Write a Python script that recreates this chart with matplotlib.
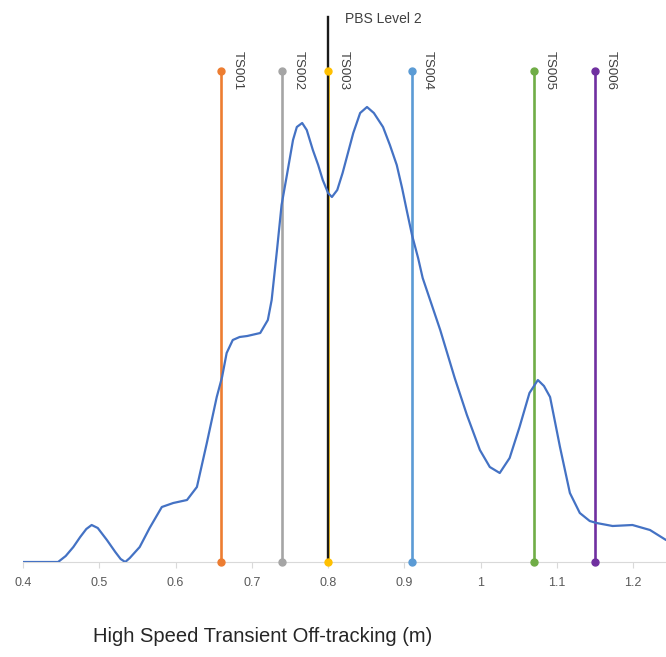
import numpy as np
import matplotlib.pyplot as plt

# density curve
curveX = [0.400, 0.446, 0.456, 0.466, 0.475, 0.483, 0.490, 0.498, 0.510, 0.521,
          0.528, 0.534, 0.540, 0.553, 0.566, 0.582, 0.597, 0.615, 0.628, 0.641,
          0.654, 0.661, 0.667, 0.675, 0.684, 0.694, 0.711, 0.721, 0.726, 0.733,
          0.739, 0.746, 0.754, 0.759, 0.766, 0.772, 0.780, 0.787, 0.793, 0.800,
          0.805, 0.812, 0.819, 0.826, 0.833, 0.842, 0.851, 0.860, 0.872, 0.881,
          0.890, 0.897, 0.903, 0.910, 0.918, 0.924, 0.947, 0.966, 0.982, 0.999,
          1.012, 1.025, 1.038, 1.051, 1.064, 1.075, 1.083, 1.091, 1.097, 1.104,
          1.117, 1.130, 1.143, 1.152, 1.173, 1.199, 1.222, 1.243]
curveY = [0.00, 0.00, 0.06, 0.15, 0.25, 0.33, 0.37, 0.34, 0.22, 0.10,
          0.03, 0.00, 0.04, 0.15, 0.34, 0.55, 0.59, 0.62, 0.75, 1.19,
          1.65, 1.85, 2.09, 2.22, 2.25, 2.26, 2.29, 2.42, 2.62, 3.12,
          3.57, 3.87, 4.22, 4.35, 4.39, 4.32, 4.12, 3.97, 3.82, 3.69,
          3.65, 3.72, 3.89, 4.09, 4.29, 4.49, 4.55, 4.49, 4.35, 4.17,
          3.97, 3.74, 3.52, 3.27, 3.04, 2.84, 2.32, 1.84, 1.47, 1.12,
          0.95, 0.89, 1.04, 1.35, 1.69, 1.82, 1.76, 1.65, 1.42, 1.15,
          0.69, 0.49, 0.41, 0.39, 0.36, 0.37, 0.32, 0.22]

# test vehicles
tsNames = ['TS001', 'TS002', 'TS003', 'TS004', 'TS005', 'TS006']
tsValues = [0.66, 0.74, 0.80, 0.91, 1.07, 1.15]
tsColors = ['#ED7D31', '#A5A5A5', '#FFC000', '#5B9BD5', '#70AD47', '#7030A0']
tsTop = 4.91

pbsName = 'PBS Level 2'
pbsValue = 0.80
pbsTop = 5.45

xTicks = [0.4, 0.5, 0.6, 0.7, 0.8, 0.9, 1.0, 1.1, 1.2]
xTickLabels = ['0.4', '0.5', '0.6', '0.7', '0.8', '0.9', '1', '1.1', '1.2']

plt.rcParams['font.family'] = ['Liberation Sans', 'DejaVu Sans']

fig = plt.figure(figsize=(6.66, 6.57), dpi=100)
ax = fig.add_axes([23/666, 95/657, 643/666, 562/657])
ax.set_xlim(0.4, 1.243)
ax.set_ylim(0, 5.62)

for name, val, col in zip(tsNames, tsValues, tsColors):
  ax.plot([val, val], [0, tsTop], color=col, lw=1.9, zorder=2)
  ax.plot([val, val], [0, tsTop], 'o', color=col, ms=5, zorder=4, clip_on=False)
  ax.text(val + 0.021, tsTop + 0.2, name, rotation=270, ha='center', va='top',
          fontsize=9.5, color='#404040')

ax.plot([pbsValue, pbsValue], [0, pbsTop], color='#1a1a1a', lw=1.7, zorder=3)
ax.text(pbsValue + 0.022, pbsTop - 0.02, pbsName, ha='left', va='center',
        fontsize=10, color='#404040')

ax.plot(curveX, curveY, color='#4472C4', lw=1.6, zorder=5,
        solid_joinstyle='round', solid_capstyle='round')

for s in ['top', 'right', 'left']:
  ax.spines[s].set_visible(False)
ax.spines['bottom'].set_color('#D9D9D9')
ax.set_yticks([])
ax.set_xticks(xTicks)
ax.set_xticklabels(xTickLabels)
ax.tick_params(axis='x', colors='#D9D9D9', labelcolor='#595959', labelsize=9,
               length=4, pad=7)

fig.text(263/666, 1 - 637/657, 'High Speed Transient Off-tracking (m)',
         ha='center', va='center', fontsize=14.5, color='#262626')

fig.savefig('out.png', dpi=100)
